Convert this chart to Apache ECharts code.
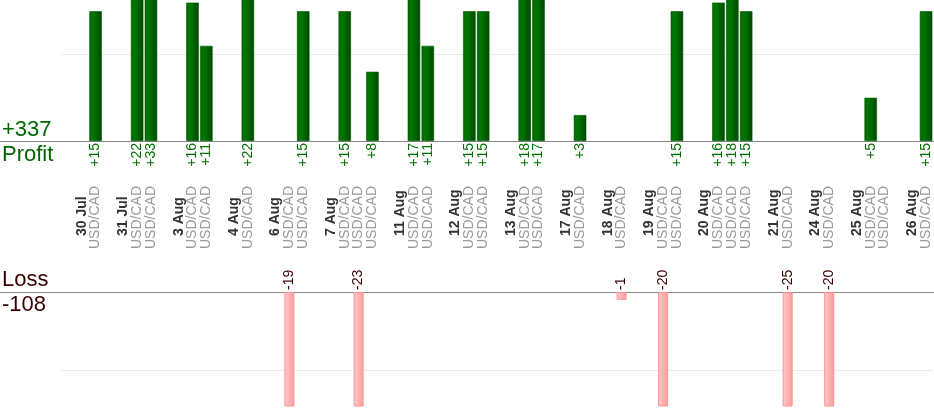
<!DOCTYPE html>
<html>
<head>
<meta charset="utf-8">
<script src="https://cdn.jsdelivr.net/npm/echarts@6/dist/echarts.min.js"></script>
<style>
html,body{margin:0;padding:0;background:#fff;}
#chart{width:934px;height:420px;}
</style>
</head>
<body>
<div id="chart"></div>
<script>
// ---- data ----
const days = ['30 Jul','31 Jul','3 Aug','4 Aug','6 Aug','7 Aug','11 Aug','12 Aug','13 Aug','17 Aug','18 Aug','19 Aug','20 Aug','21 Aug','24 Aug','25 Aug','26 Aug'];
const pairName = 'USD/CAD';
// results of each trade, grouped by day (in order)
const dayTrades = [
  [15],
  [22, 33],
  [16, 11],
  [22],
  [-19, 15],
  [15, -23, 8],
  [17, 11],
  [15, 15],
  [18, 17],
  [3],
  [-1],
  [-20, 15],
  [16, 18, 15],
  [-25],
  [-20],
  [5, 0],
  [15]
];
const profitTitle = 'Profit';
const lossTitle = 'Loss';

// ---- build category slots: spacer, date, trades... ----
const slotKeys = [], slotDate = [], slotPair = [], slotProfit = [], slotLoss = [];
days.forEach((d, di) => {
  slotKeys.push('s' + slotKeys.length); slotDate.push(''); slotPair.push(''); slotProfit.push(null); slotLoss.push(null);
  slotKeys.push('s' + slotKeys.length); slotDate.push(d); slotPair.push(''); slotProfit.push(null); slotLoss.push(null);
  dayTrades[di].forEach(v => {
    slotKeys.push('s' + slotKeys.length);
    slotDate.push('');
    slotPair.push(pairName);
    slotProfit.push(v > 0 ? v : null);
    slotLoss.push(v < 0 ? v : null);
  });
});
const totalProfit = dayTrades.flat().filter(v => v > 0).reduce((a, b) => a + b, 0);
const totalLoss = dayTrades.flat().filter(v => v < 0).reduce((a, b) => a + b, 0);

const FONT = "'Liberation Sans', Arial, sans-serif";
const GREEN = '#007000';
const DARKRED = '#3a0000';

const chart = echarts.init(document.getElementById('chart'), null, {renderer: 'canvas'});

const option = {
  animation: false,
  backgroundColor: '#ffffff',
  title: [
    {text: '+' + totalProfit, left: 2, top: 119, padding: 0, textStyle: {fontFamily: FONT, fontSize: 22, fontWeight: 'normal', color: '#006600'}},
    {text: profitTitle, left: 2, top: 144, padding: 0, textStyle: {fontFamily: FONT, fontSize: 22, fontWeight: 'normal', color: '#006600'}},
    {text: lossTitle, left: 2, top: 269, padding: 0, textStyle: {fontFamily: FONT, fontSize: 22, fontWeight: 'normal', color: DARKRED}},
    {text: String(totalLoss), left: 2, top: 294, padding: 0, textStyle: {fontFamily: FONT, fontSize: 22, fontWeight: 'normal', color: DARKRED}}
  ],
  grid: [
    {left: 61, right: 1, top: 0, height: 141, outerBoundsMode: 'none'},
    {left: 61, right: 1, top: 292, height: 114, outerBoundsMode: 'none'},
    {left: 0, right: 0, top: 0, height: 141, outerBoundsMode: 'none'},
    {left: 0, right: 0, top: 292, height: 114, outerBoundsMode: 'none'}
  ],
  xAxis: [
    { // profit value labels
      type: 'category', gridIndex: 0, data: slotKeys, position: 'bottom',
      axisLine: {show: false, onZero: false}, axisTick: {show: false}, splitLine: {show: false},
      axisLabel: {
        interval: 0, hideOverlap: false, rotate: 90, margin: 2, align: 'right', verticalAlign: 'middle',
        fontFamily: FONT, fontSize: 14, color: GREEN,
        formatter: (v, i) => slotProfit[i] != null ? '+' + slotProfit[i] : ''
      }
    },
    { // date labels
      type: 'category', gridIndex: 0, data: slotKeys, position: 'bottom',
      axisLine: {show: false, onZero: false}, axisTick: {show: false}, splitLine: {show: false},
      axisLabel: {
        interval: 0, hideOverlap: false, rotate: 90, margin: 95, align: 'left', verticalAlign: 'middle',
        fontFamily: FONT, fontSize: 14, fontWeight: 'bold', color: '#333333',
        formatter: (v, i) => slotDate[i]
      }
    },
    { // pair labels
      type: 'category', gridIndex: 0, data: slotKeys, position: 'bottom',
      axisLine: {show: false, onZero: false}, axisTick: {show: false}, splitLine: {show: false},
      axisLabel: {
        interval: 0, hideOverlap: false, rotate: 90, margin: 108, align: 'left', verticalAlign: 'middle',
        fontFamily: FONT, fontSize: 14, color: '#9a9a9a',
        formatter: (v, i) => slotPair[i]
      }
    },
    { // loss axis; its labels are lifted above the loss baseline
      type: 'category', gridIndex: 1, data: slotKeys, position: 'bottom',
      axisLine: {show: false, onZero: false}, axisTick: {show: false}, splitLine: {show: false},
      axisLabel: {
        interval: 0, hideOverlap: false, rotate: 90, margin: -116, align: 'left', verticalAlign: 'middle',
        fontFamily: FONT, fontSize: 14, color: DARKRED,
        formatter: (v, i) => slotLoss[i] != null ? String(slotLoss[i]) : ''
      }
    },
    { // full-width baseline of profit chart
      type: 'value', gridIndex: 2, position: 'bottom', min: 0, max: 1,
      axisLine: {show: true, onZero: false, lineStyle: {color: '#858585', width: 1}},
      axisTick: {show: false}, axisLabel: {show: false}, splitLine: {show: false}
    },
    { // full-width baseline of loss chart
      type: 'value', gridIndex: 3, position: 'top', min: 0, max: 1,
      axisLine: {show: true, onZero: false, lineStyle: {color: '#858585', width: 1}},
      axisTick: {show: false}, axisLabel: {show: false}, splitLine: {show: false}
    }
  ],
  yAxis: [
    {
      type: 'value', gridIndex: 0, min: 0, max: 16.3, interval: 10,
      axisLine: {show: false}, axisTick: {show: false}, axisLabel: {show: false},
      splitLine: {show: true, showMinLine: false, showMaxLine: false, lineStyle: {color: '#ebebeb', width: 1}}
    },
    {
      type: 'value', gridIndex: 1, inverse: true, min: 0, max: 14.6, interval: 10,
      axisLine: {show: false}, axisTick: {show: false}, axisLabel: {show: false},
      splitLine: {show: true, showMinLine: false, showMaxLine: false, lineStyle: {color: '#ebebeb', width: 1}}
    },
    {type: 'value', gridIndex: 2, min: 0, max: 1, show: false},
    {type: 'value', gridIndex: 3, min: 0, max: 1, show: false}
  ],
  series: [
    {
      name: 'Profit', type: 'bar', xAxisIndex: 0, yAxisIndex: 0,
      data: slotProfit, barWidth: 12.5, clip: true, silent: true,
      itemStyle: {
        color: {type: 'linear', x: 0, y: 0, x2: 1, y2: 0, colorStops: [
          {offset: 0, color: '#006a00'}, {offset: 0.3, color: '#007800'}, {offset: 1, color: '#004800'}
        ]},
        borderColor: '#005a00', borderWidth: 0.6
      }
    },
    {
      name: 'Loss', type: 'bar', xAxisIndex: 3, yAxisIndex: 1,
      data: slotLoss.map(v => v == null ? null : -v), barWidth: 10, clip: true, silent: true,
      itemStyle: {
        color: {type: 'linear', x: 0, y: 0, x2: 1, y2: 0, colorStops: [
          {offset: 0, color: '#ffcaca'}, {offset: 1, color: '#ff9b9b'}
        ]},
        borderColor: '#ff9090', borderWidth: 1
      }
    }
  ]
};
chart.setOption(option);
</script>
</body>
</html>
